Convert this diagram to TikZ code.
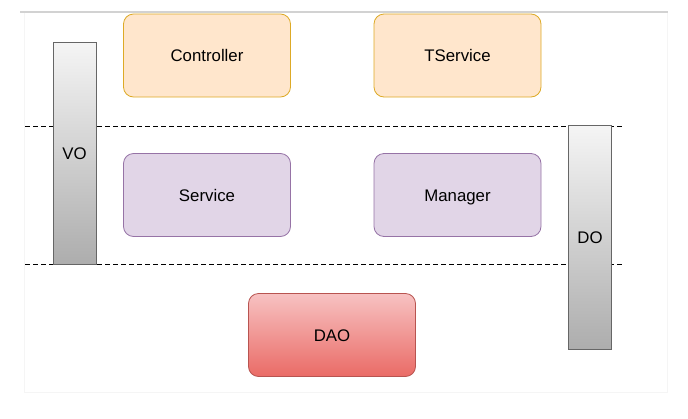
\documentclass[tikz,border=0pt]{standalone}
\usepackage{fontspec}
\setmainfont{Liberation Sans}
\usepackage{xcolor}
\definecolor{ctrlfill}{HTML}{FFE6CC}
\definecolor{ctrldraw}{HTML}{D79B00}
\definecolor{svcfill}{HTML}{E1D5E7}
\definecolor{svcdraw}{HTML}{9673A6}
\definecolor{daotop}{HTML}{F7C2C2}
\definecolor{daobot}{HTML}{EA6B66}
\definecolor{daodraw}{HTML}{B85450}
\definecolor{bartop}{HTML}{F5F5F5}
\definecolor{barbot}{HTML}{ADADAD}
\definecolor{bardraw}{HTML}{666666}

\begin{document}
\begin{tikzpicture}[x=1pt,y=-1pt,
    font=\fontsize{16.8}{19}\selectfont,
    layer/.style={rounded corners=10pt,minimum width=167pt,minimum height=83pt,
                  inner sep=0pt,line width=0.8pt,text height=12pt,text depth=0pt},
    web/.style={layer,fill=ctrlfill,draw=ctrldraw!85},
    biz/.style={layer,fill=svcfill,draw=svcdraw},
    dao/.style={layer,top color=daotop,bottom color=daobot,draw=daodraw},
    obj/.style={minimum width=43pt,inner sep=0pt,line width=0.8pt,
                text height=12pt,text depth=0pt,
                top color=bartop,bottom color=barbot,draw=bardraw},
    sep/.style={dashed,line width=0.8pt,dash pattern=on 5pt off 3pt}]
  \useasboundingbox (0,0) rectangle (688,418);
  % frame
  \draw[gray!8] (24,12) rectangle (667,392);
  \draw[gray!35,line width=1.2pt] (20,12) -- (668,12);
  % layer separators
  \coordinate (s1a) at (25,126);
  \coordinate (s1b) at (623,126);
  \coordinate (s2a) at (25,264);
  \coordinate (s2b) at (623,264);
  \draw[sep] (s1a) -- (s1b);
  \draw[sep] (s2a) -- (s2b);
  % layers
  \node[web] (ctrl) at (207,55.5) {Controller};
  \node[web] (tsvc) at (457.5,55.5) {TService};
  \node[biz] (svc) at (207,195) {Service};
  \node[biz] (mgr) at (457.5,195) {Manager};
  \node[dao] (dao) at (332,335) {DAO};
  % objects
  \node[obj,minimum height=222pt] (vo) at (74.5,153) {VO};
  \node[obj,minimum height=224pt] (do) at (590,237) {DO};
\end{tikzpicture}
\end{document}
